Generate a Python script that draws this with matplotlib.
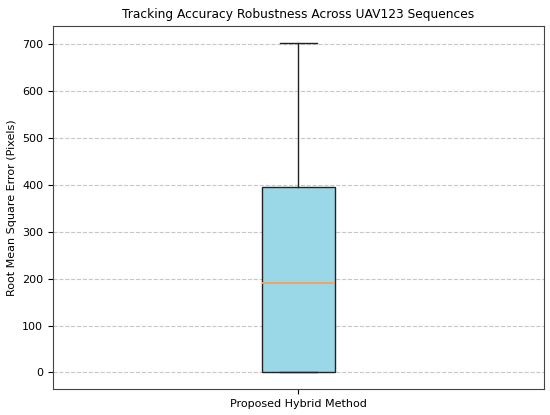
import matplotlib.pyplot as plt


# box statistics (pixels)
LABELS = ['Proposed Hybrid Method']
WHISKER_LOW = [0.0]
Q1 = [0.0]
MEDIAN = [190.0]
Q3 = [395.0]
WHISKER_HIGH = [703.0]


def main():
    stats = []
    for i, label in enumerate(LABELS):
        stats.append({
            'label': label,
            'whislo': WHISKER_LOW[i],
            'q1': Q1[i],
            'med': MEDIAN[i],
            'q3': Q3[i],
            'whishi': WHISKER_HIGH[i],
            'fliers': [],
        })

    fig, ax = plt.subplots(figsize=(5.5, 4.15), dpi=100)
    ax.bxp(
        stats,
        widths=0.15,
        patch_artist=True,
        showfliers=False,
        boxprops=dict(facecolor='#9AD8E8', edgecolor='#222222', linewidth=1.0),
        whiskerprops=dict(color='#222222', linewidth=1.0),
        capprops=dict(color='#222222', linewidth=1.0),
        medianprops=dict(color='#F5A05A', linewidth=1.3),
    )

    ax.set_title('Tracking Accuracy Robustness Across UAV123 Sequences', fontsize=8.8)
    ax.set_ylabel('Root Mean Square Error (Pixels)', fontsize=8)
    ax.tick_params(axis='both', labelsize=8)
    ax.grid(True, axis='y', linestyle='--', alpha=0.7)
    ax.set_axisbelow(True)
    for spine in ax.spines.values():
        spine.set_color('#444444')

    fig.subplots_adjust(left=0.0964, right=0.989, top=0.937, bottom=0.0627)
    fig.savefig('out.png', dpi=100)


if __name__ == '__main__':
    main()
